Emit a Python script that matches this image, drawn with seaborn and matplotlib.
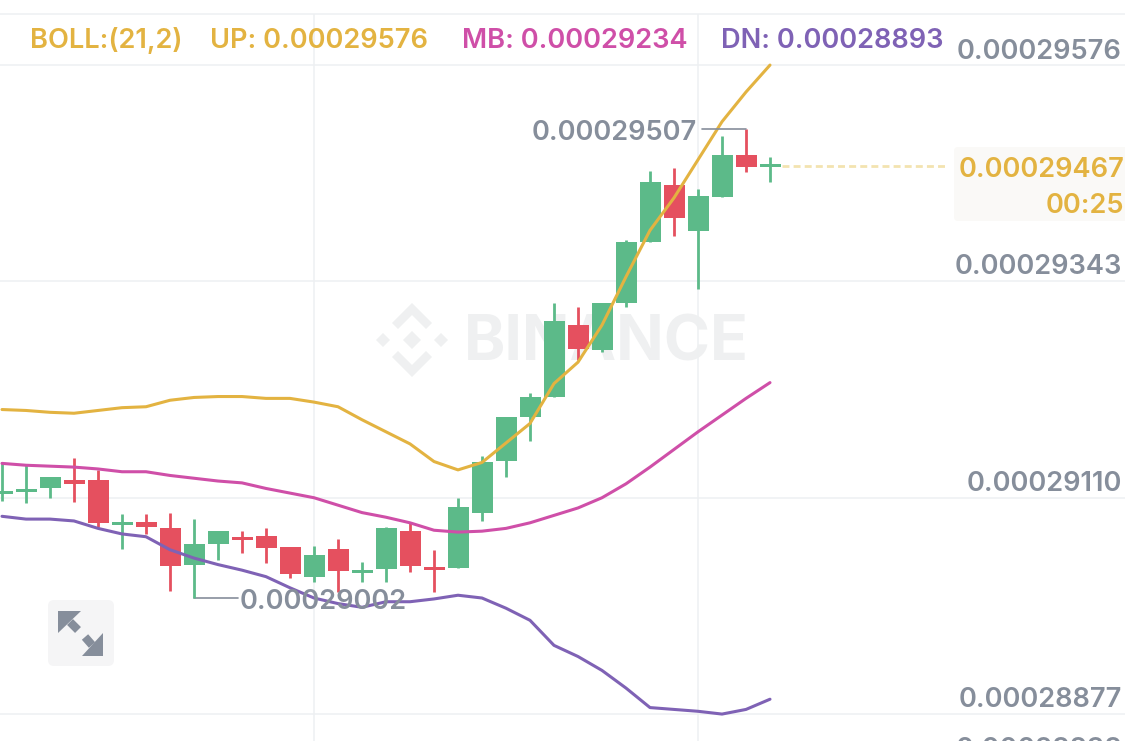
import pandas as pd
import seaborn as sns
import matplotlib
matplotlib.use("Agg")
import matplotlib.pyplot as plt
from matplotlib.patches import FancyBboxPatch, Polygon
from matplotlib.transforms import Affine2D

# prices are in units of 0.00000001
opens = [29114, 29116, 29120, 29129, 29129, 29081, 29084, 29077, 29038, 29060, 29068,
         29069, 29057, 29025, 29055, 29029, 29033, 29074, 29035, 29034, 29094, 29150,
         29197, 29219, 29296, 29269, 29320, 29385, 29447, 29397, 29434, 29479, 29466]
closes = [29117, 29119, 29132, 29125, 29083, 29084, 29078, 29037, 29060, 29074, 29065,
          29056, 29028, 29048, 29031, 29032, 29077, 29036, 29032, 29100, 29149, 29197,
          29219, 29300, 29270, 29320, 29385, 29450, 29411, 29435, 29479, 29466, 29469]
highs = [29148, 29145, 29132, 29153, 29140, 29092, 29093, 29094, 29087, 29074, 29074,
         29077, 29057, 29058, 29066, 29041, 29079, 29084, 29054, 29110, 29155, 29197,
         29223, 29320, 29315, 29320, 29388, 29462, 29465, 29442, 29500, 29507, 29477]
lows = [29107, 29104, 29110, 29105, 29078, 29055, 29071, 29010, 29002, 29043, 29050,
        29040, 29024, 29019, 29009, 29019, 29019, 29030, 29008, 29034, 29085, 29132,
        29171, 29219, 29258, 29267, 29315, 29385, 29392, 29335, 29434, 29461, 29450]
boll_up = [29205, 29204, 29202, 29201, 29204, 29207, 29208, 29215, 29218, 29219, 29219,
           29217, 29217, 29213, 29208, 29194, 29181, 29168, 29149, 29140, 29148, 29169,
           29190, 29233, 29256, 29296, 29348, 29398, 29433, 29474, 29515, 29547, 29576]
boll_mb = [29147, 29145, 29144, 29143, 29141, 29138, 29138, 29134, 29131, 29128, 29126,
           29120, 29115, 29110, 29102, 29094, 29089, 29083, 29075, 29073, 29074, 29077,
           29083, 29091, 29099, 29110, 29125, 29143, 29162, 29181, 29199, 29217, 29234]
boll_dn = [29090, 29087, 29087, 29085, 29077, 29071, 29068, 29054, 29045, 29038, 29032,
           29025, 29013, 29002, 28996, 28992, 28998, 28998, 29001, 29005, 29002, 28991,
           28978, 28951, 28939, 28924, 28905, 28884, 28882, 28880, 28877, 28882, 28893]
grid_prices = [29576, 29343, 29110, 28877]
grid_candles = [13, 29]
last_price = 29467

GREEN = "#5cba89"
RED = "#e5505f"
YELLOW = "#e3b341"
MAGENTA = "#cf4fa8"
PURPLE = "#7f62b5"
GREY = "#868e9b"
GRID = "#eef0f2"
WATERMARK = "#eff0f1"

def price_label(v):
    return f"{v * 1e-8:.8f}"

df = pd.DataFrame({"candle": range(len(opens)), "open": opens, "close": closes,
                   "high": highs, "low": lows, "up": boll_up, "mb": boll_mb, "dn": boll_dn})
df["color"] = [GREEN if c >= o else RED for o, c in zip(df["open"], df["close"])]

sns.set_theme(style="white")
plt.rcParams["font.family"] = ["Inter", "DejaVu Sans"]

fig = plt.figure(figsize=(11.25, 7.41), dpi=100)
ax = fig.add_axes([0, 0, 1, 727 / 741])
ax.set_xlim(-2 / 24, 1123 / 24)
ax.set_ylim(28848, 29631)

# grid and frame
ax.set_xticks(grid_candles)
ax.set_yticks(grid_prices)
ax.grid(True, color=GRID, lw=1.1)
ax.set_axisbelow(True)
ax.tick_params(length=0, labelbottom=False, labelleft=False)
for side in ["left", "right", "bottom"]:
    ax.spines[side].set_visible(False)
ax.spines["top"].set_color(GRID)
ax.spines["top"].set_linewidth(1.1)

# pixel coords for the screen furniture (top-left origin)
pix = Affine2D().scale(1, -1).translate(0, 741)

# watermark
for pts in [[(412, 303), (432, 323), (426, 329), (412, 315), (398, 329), (392, 323)],
            [(412, 377), (432, 357), (426, 351), (412, 365), (398, 351), (392, 357)],
            [(412, 331), (421, 340), (412, 349), (403, 340)],
            [(383, 333), (390, 340), (383, 347), (376, 340)],
            [(441, 333), (448, 340), (441, 347), (434, 340)]]:
    ax.add_patch(Polygon(pts, closed=True, color=WATERMARK, lw=0, transform=pix, zorder=0.5))
ax.text(749, 344, "BINANCE", color=WATERMARK, fontsize=45, fontweight="bold", ha="right",
        va="center", transform=pix, zorder=0.5)

# candles
ax.vlines(df["candle"], df["low"], df["high"], colors=df["color"], lw=2.0, zorder=2)
ax.bar(df["candle"], (df["close"] - df["open"]).abs(), bottom=df[["open", "close"]].min(axis=1),
       width=0.875, color=df["color"], lw=0, zorder=2)

# bollinger lines
for col, color in [("up", YELLOW), ("mb", MAGENTA), ("dn", PURPLE)]:
    sns.lineplot(data=df, x="candle", y=col, color=color, lw=2.2, ax=ax, zorder=3)
ax.set_xlabel("")
ax.set_ylabel("")

# header
label_size = 19.6
label_weight = "semibold"
for x, txt, color in [(30, "BOLL:(21,2)", YELLOW), (210, "UP: " + price_label(boll_up[-1]), YELLOW),
                      (462, "MB: " + price_label(boll_mb[-1]), MAGENTA),
                      (721, "DN: " + price_label(boll_dn[-1]), PURPLE)]:
    ax.text(x, 41, txt, color=color, fontsize=label_size, fontweight=label_weight, ha="left",
            va="center", transform=pix, zorder=5)

# right scale labels
for v, y in zip(grid_prices, [52, 267, 484, 700]):
    ax.text(1122, y, price_label(v), color=GREY, fontsize=label_size, fontweight=label_weight,
            ha="right", va="center", transform=pix, zorder=5)
ax.text(1122, 750, price_label(28838), color=GREY, fontsize=label_size, fontweight=label_weight,
        ha="right", va="center", transform=pix, zorder=5)

# last price tag
ax.hlines(last_price, df["candle"].iloc[-1] + 0.5, 945 / 24, colors="#f3e3b0", lw=2.0,
          linestyles=(0, (2.5, 1.5)), zorder=1)
ax.add_patch(FancyBboxPatch((958, 151), 175, 66, boxstyle="round,pad=4,rounding_size=4", fc="#faf9f7",
                            ec="none", transform=pix, zorder=4))
ax.text(1124, 170, price_label(last_price), color=YELLOW, fontsize=label_size, fontweight=label_weight,
        ha="right", va="center", transform=pix, zorder=5)
ax.text(1124, 206, "00:25", color=YELLOW, fontsize=label_size, fontweight=label_weight,
        ha="right", va="center", transform=pix, zorder=5)

# high / low markers
i_hi = df["high"].idxmax()
i_lo = df["low"].idxmin()
hi = df["high"].iloc[i_hi]
lo = df["low"].iloc[i_lo]
ax.plot([i_hi - 1.83, i_hi], [hi, hi], color=GREY, lw=1.2, zorder=3)
ax.plot([i_lo, i_lo + 1.83], [lo, lo], color=GREY, lw=1.2, zorder=1.5)
ax.text(i_hi - 2.04, hi - 4, price_label(hi), color=GREY, fontsize=label_size, fontweight=label_weight,
        ha="right", va="center", zorder=5)
ax.text(i_lo + 1.92, lo - 4, price_label(lo), color=GREY, fontsize=label_size, fontweight=label_weight,
        ha="left", va="center", zorder=5)

# expand button
ax.add_patch(FancyBboxPatch((52, 604), 58, 58, boxstyle="round,pad=4,rounding_size=6", fc="#f5f5f6",
                            ec="none", transform=pix, zorder=4))
for head, shaft in [([(58, 611), (81, 611), (58, 633)], [(70, 622), (78, 630)]),
                    ([(103, 656), (82, 656), (103, 633)], [(92, 645), (85, 637)])]:
    ax.add_patch(Polygon(head, closed=True, color=GREY, lw=0, transform=pix, zorder=5))
    ax.plot(*zip(*shaft), color=GREY, lw=6, solid_capstyle="butt", transform=pix, zorder=5)

fig.savefig("out.png", dpi=100)
